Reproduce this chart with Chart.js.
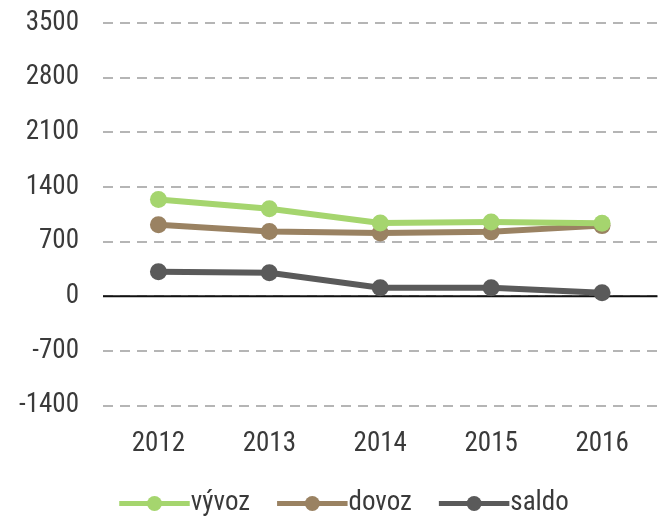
<!DOCTYPE html>
<html><head><meta charset="utf-8">
<script src="https://cdn.jsdelivr.net/npm/chart.js@4/dist/chart.umd.min.js"></script>
<style>html,body{margin:0;padding:0;background:#fff}#wrap{width:666px;height:522px}</style>
</head><body><div id="wrap"><canvas id="c" width="666" height="522"></canvas></div>
<script>
const categories = ['2012','2013','2014','2015','2016'];
const vyvoz = [1240, 1120, 940, 950, 935];
const dovoz = [915, 830, 810, 825, 905];
const saldo = [315, 300, 110, 110, 45];
const seriesNames = ['vývoz','dovoz','saldo'];
const colors = ['#a5d56e','#9a8262','#5a5a5a'];
const FONT = '"Roboto Condensed",Roboto,"Liberation Sans",sans-serif';
const TXT = '#3a3a3a';
const FS = 27;
const BOXW = 58;

const extras = {
  id:'extras',
  afterLayout(chart){
    if(chart.legend){ chart.legend.left += 11; chart.legend.right += 11; }
  },
  beforeDatasetsDraw(chart){
    const y = chart.scales.y.getPixelForValue(0);
    const a = chart.chartArea, ctx = chart.ctx;
    ctx.save(); ctx.strokeStyle = '#111'; ctx.lineWidth = 2;
    ctx.beginPath(); ctx.moveTo(a.left, y); ctx.lineTo(a.right, y); ctx.stroke(); ctx.restore();
  },
  afterDraw(chart){
    const lg = chart.legend, ctx = chart.ctx;
    if(!lg || !lg.legendHitBoxes) return;
    lg.legendHitBoxes.forEach((b,i)=>{
      const cy = b.top + b.height/2, x0 = b.left, x1 = b.left + BOXW + FS/2 - 1;
      ctx.save(); ctx.strokeStyle = colors[i]; ctx.lineWidth = 5;
      ctx.beginPath(); ctx.moveTo(x0, cy); ctx.lineTo(x1, cy); ctx.stroke();
      ctx.fillStyle = colors[i];
      ctx.beginPath(); ctx.arc((x0+x1)/2, cy, 7.5, 0, Math.PI*2); ctx.fill(); ctx.restore();
    });
  }
};
const data = [vyvoz, dovoz, saldo];
const tickFont = {family:FONT, size:FS, weight:'condensed'};
new Chart(document.getElementById('c'), {
  type:'line',
  data:{ labels:categories, datasets: data.map((d,i)=>({
    label:seriesNames[i], data:d, borderColor:colors[i], backgroundColor:colors[i],
    borderWidth:6, pointRadius:8.5, pointBackgroundColor:colors[i], pointBorderWidth:0, tension:0
  }))},
  options:{
    responsive:false, animation:false,
    layout:{padding:{left:0,right:0,top:23,bottom:-5}},
    plugins:{
      legend:{position:'bottom', labels:{
        boxWidth:BOXW, boxHeight:0, font:tickFont, color:TXT, padding:27,
        generateLabels(chart){
          return chart.data.datasets.map((ds,i)=>({text:ds.label, fillStyle:'rgba(0,0,0,0)',
            strokeStyle:'rgba(0,0,0,0)', lineWidth:0, hidden:false, datasetIndex:i, fontColor:TXT}));
        }
      }},
      tooltip:{enabled:false}
    },
    scales:{
      x:{ offset:true, grid:{display:false}, border:{display:false},
        afterFit(s){ s.height -= 11; },
        ticks:{font:tickFont, color:TXT, padding:14} },
      y:{ min:-1400, max:3500, grid:{color:'#b5b5b5', lineWidth:2, drawTicks:false},
        border:{display:false, dash:[10,7]},
        afterFit(s){ s.width = 103; s.paddingTop = 0; s.paddingBottom = 0; },
        ticks:{stepSize:700, font:tickFont, color:TXT, padding:24,
          callback:(v)=>String(v)} }
    }
  },
  plugins:[extras]
});
</script></body></html>
